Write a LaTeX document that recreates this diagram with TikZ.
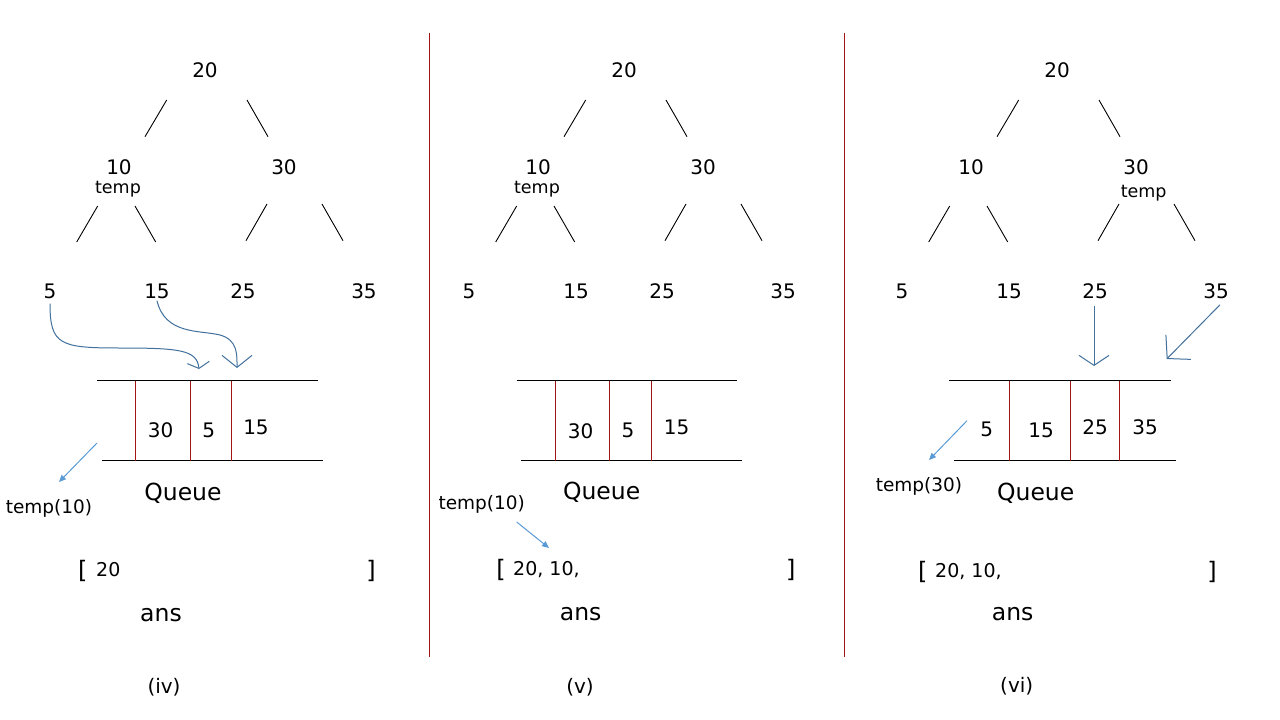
\documentclass[tikz,border=0pt]{standalone}
\usepackage{fontspec}
\setmainfont{DejaVu Sans}
\usetikzlibrary{arrows.meta}
\definecolor{darkblue}{HTML}{41719C}
\definecolor{lightblue}{HTML}{5B9BD5}
\definecolor{darkred}{RGB}{165,20,20}
\tikzset{
  num/.style={inner sep=0pt, font=\fontsize{20}{22}\selectfont},
  lst/.style={inner sep=0pt, font=\fontsize{19}{21}\selectfont},
  tmp/.style={inner sep=0pt, font=\fontsize{17.5}{19}\selectfont},
  tmpl/.style={inner sep=0pt, font=\fontsize{18.5}{20}\selectfont},
  big/.style={inner sep=0pt, font=\fontsize{23.5}{26}\selectfont},
  brk/.style={inner sep=0pt, font=\fontsize{24}{26}\selectfont},
  capt/.style={inner sep=0pt, font=\fontsize{20}{22}\selectfont},
  edge/.style={draw=black, line width=0.9pt},
  qline/.style={draw=black, line width=1.1pt},
  qsep/.style={draw=darkred, line width=1.5pt},
  psep/.style={draw=darkred, line width=1.5pt},
  curv/.style={draw=darkblue, line width=1pt},
  tarrow/.style={draw=lightblue, line width=1pt, -{Triangle[length=7pt,width=6pt]}},
}
\newcommand{\bsttree}[2]{%
\begin{scope}[xshift=#2pt]
\node[num] (#1r) at (205,70) {20};
\node[num] (#1a) at (119,167) {10};
\node[num] (#1b) at (284,167) {30};
\node[num] (#1c) at (50,291) {5};
\node[num] (#1d) at (157,291) {15};
\node[num] (#1e) at (243,291) {25};
\node[num] (#1f) at (364,291) {35};
\coordinate (#1ra1) at (166.7,100); \coordinate (#1ra2) at (145,136.7);
\coordinate (#1rb1) at (247,100);   \coordinate (#1rb2) at (268,136.7);
\coordinate (#1ac1) at (97.7,206);  \coordinate (#1ac2) at (76.7,242);
\coordinate (#1ad1) at (135,206);   \coordinate (#1ad2) at (155.7,242);
\coordinate (#1be1) at (267,204);   \coordinate (#1be2) at (246,240.7);
\coordinate (#1bf1) at (322,204);   \coordinate (#1bf2) at (343,240.7);
\draw[edge] (#1ra1) -- (#1ra2);
\draw[edge] (#1rb1) -- (#1rb2);
\draw[edge] (#1ac1) -- (#1ac2);
\draw[edge] (#1ad1) -- (#1ad2);
\draw[edge] (#1be1) -- (#1be2);
\draw[edge] (#1bf1) -- (#1bf2);
\end{scope}}
\begin{document}
\begin{tikzpicture}[x=1pt,y=-1pt]
\useasboundingbox (0,0) rectangle (1280,720);
\fill[white] (0,0) rectangle (1280,720);

% panel separators
\coordinate (s1t) at (429.5,33.3); \coordinate (s1b) at (429.5,657);
\coordinate (s2t) at (844.5,33.3); \coordinate (s2b) at (844.5,657);
\draw[psep] (s1t) -- (s1b);
\draw[psep] (s2t) -- (s2b);

% ================= panel (iv) =================
\bsttree{p}{0}
\node[tmp] (ptemp) at (118,189) {temp};
\coordinate (q1tl) at (97,380.5);  \coordinate (q1tr) at (318,380.5);
\coordinate (q1bl) at (102,460.5); \coordinate (q1br) at (323,460.5);
\draw[qline] (q1tl) -- (q1tr);
\draw[qline] (q1bl) -- (q1br);
\foreach \x [count=\i] in {135.5,190.5,231.5} {
  \coordinate (q1s\i a) at (\x,380.5); \coordinate (q1s\i b) at (\x,460.5);
  \draw[qsep] (q1s\i a) -- (q1s\i b);
}
\node[num] (q1v1) at (160.7,430.7) {30};
\node[num] (q1v2) at (208.7,430) {5};
\node[num] (q1v3) at (256,427.7) {15};
\node[big] (q1lab) at (183,493) {Queue};
\node[tmpl] (q1temp) at (49,508) {temp(10)};
\coordinate (q1ta) at (97,443); \coordinate (q1tb) at (59,482);
\draw[tarrow] (q1ta) -- (q1tb);
\coordinate (q1e5) at (199,369);
\coordinate (q1e15) at (237,368);
\draw[curv, -{Straight Barb[length=6pt,width=22pt]}] ([yshift=-5pt]pc.south) .. controls (50,345) and (60,348) .. (120,348) .. controls (180,348) and (197,350) .. (q1e5);
\draw[curv, -{Straight Barb[length=12pt,width=30pt]}] ([yshift=-2pt]pd.south) .. controls (165,335) and (200,330) .. (220,335) .. controls (238,340) and (237,355) .. (q1e15);
\node[brk] (a1l) at (82.7,571) {[};
\node[lst, anchor=west] (a1v) at (96,570) {20};
\node[brk] (a1r) at (371,571) {]};
\node[big] (a1lab) at (161,615) {ans};
\node[capt] (cap1) at (164,687) {(iv)};

% ================= panel (v) =================
\bsttree{m}{419}
\node[tmp] (mtemp) at (537,189) {temp};
\coordinate (q2tl) at (516.7,380.5); \coordinate (q2tr) at (737,380.5);
\coordinate (q2bl) at (521,460.5);   \coordinate (q2br) at (742,460.5);
\draw[qline] (q2tl) -- (q2tr);
\draw[qline] (q2bl) -- (q2br);
\foreach \x [count=\i] in {555.5,609.5,651.5} {
  \coordinate (q2s\i a) at (\x,380.5); \coordinate (q2s\i b) at (\x,460.5);
  \draw[qsep] (q2s\i a) -- (q2s\i b);
}
\node[num] (q2v1) at (580.7,431) {30};
\node[num] (q2v2) at (628,430) {5};
\node[num] (q2v3) at (676.7,427.7) {15};
\node[big] (q2lab) at (601.7,492) {Queue};
\node[tmpl] (q2temp) at (481.7,504) {temp(10)};
\coordinate (q2ta) at (516.7,522); \coordinate (q2tb) at (549,548);
\draw[tarrow] (q2ta) -- (q2tb);
\node[brk] (a2l) at (501,570) {[};
\node[lst, anchor=west] (a2v) at (513,570) {20, 10,};
\node[brk] (a2r) at (790.7,570) {]};
\node[big] (a2lab) at (580.7,614) {ans};
\node[capt] (cap2) at (580,687) {(v)};

% ================= panel (vi) =================
\bsttree{n}{852}
\node[tmp] (ntemp) at (1143.7,193.5) {temp};
\coordinate (q3tl) at (949,380.5); \coordinate (q3tr) at (1170.7,380.5);
\coordinate (q3bl) at (954,460.5); \coordinate (q3br) at (1175.7,460.5);
\draw[qline] (q3tl) -- (q3tr);
\draw[qline] (q3bl) -- (q3br);
\foreach \x [count=\i] in {1009.5,1070.5,1119.5} {
  \coordinate (q3s\i a) at (\x,380.5); \coordinate (q3s\i b) at (\x,460.5);
  \draw[qsep] (q3s\i a) -- (q3s\i b);
}
\node[num] (q3v1) at (986.7,429) {5};
\node[num] (q3v2) at (1041,430) {15};
\node[num] (q3v3) at (1095,427) {25};
\node[num] (q3v4) at (1145,427) {35};
\node[big] (q3lab) at (1035.7,493) {Queue};
\node[tmpl] (q3temp) at (919,486.7) {temp(30)};
\coordinate (q3ta) at (967,420.7); \coordinate (q3tb) at (929,460);
\draw[tarrow] (q3ta) -- (q3tb);
\coordinate (q3e25) at (1094,366);
\coordinate (q3e35) at (1166.7,359);
\draw[curv, -{Straight Barb[length=10pt,width=30pt]}] ([yshift=-7pt]ne.south -| 1094,0) -- (q3e25);
\draw[curv, -{Straight Barb[length=16pt,width=35pt]}] ([xshift=4pt,yshift=-6pt]nf.south) -- (q3e35);
\node[brk] (a3l) at (922.7,571.5) {[};
\node[lst, anchor=west] (a3v) at (935,571.7) {20, 10,};
\node[brk] (a3r) at (1212,571.5) {]};
\node[big] (a3lab) at (1012.7,614) {ans};
\node[capt] (cap3) at (1016.7,686.7) {(vi)};
\end{tikzpicture}
\end{document}
